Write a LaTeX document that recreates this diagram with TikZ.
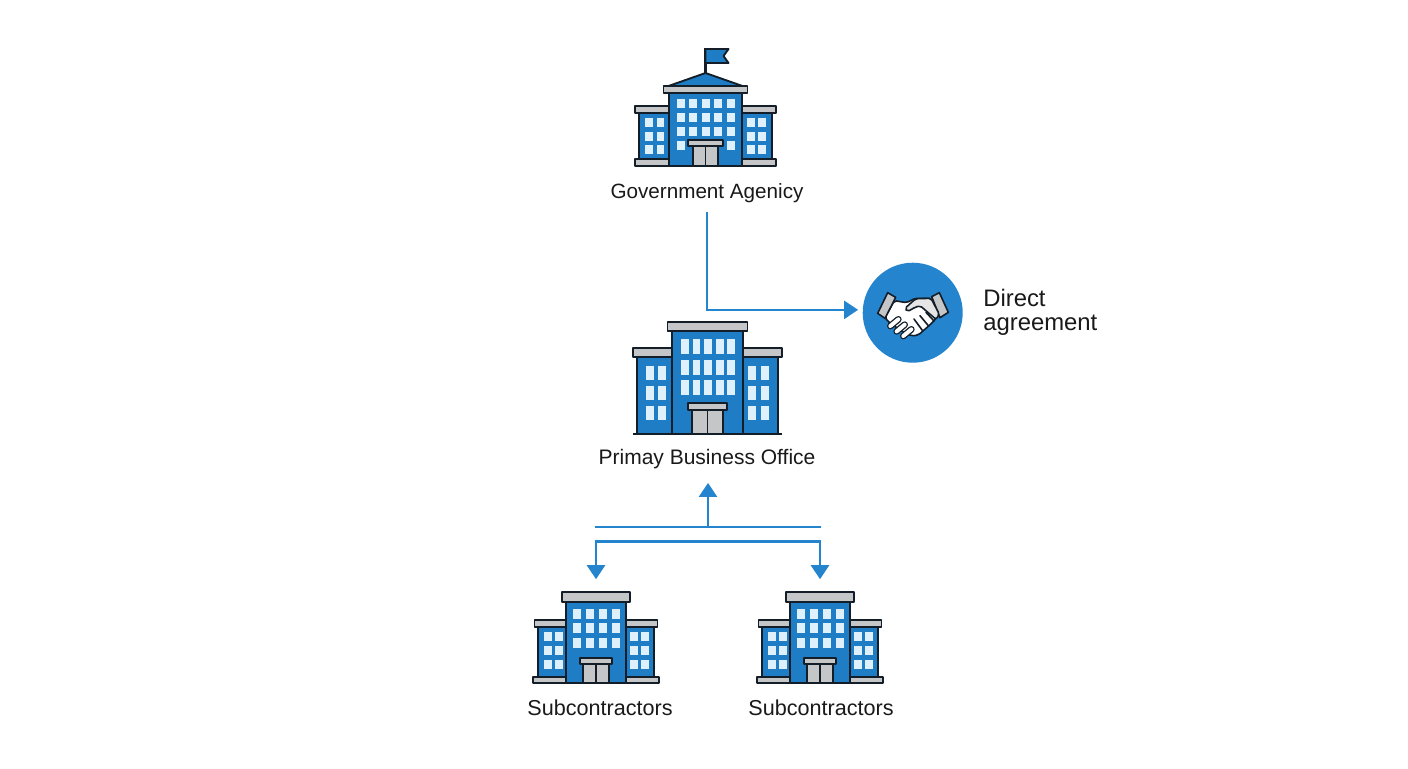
\documentclass[tikz,border=0pt]{standalone}
\usepackage{fontspec}
\setmainfont{Liberation Sans}
\usetikzlibrary{arrows.meta}
\definecolor{bldblue}{HTML}{1F7DC6}
\definecolor{flowblue}{HTML}{2484CE}
\definecolor{pane}{HTML}{DDF0FB}
\definecolor{trim}{HTML}{C4C6C8}
\definecolor{ink}{HTML}{141E28}

% side window columns, pane width and height as arguments
\newcommand{\panes}[4]{%
  \foreach \px in {#1} \foreach \py in {#2}
    \fill[pane] (\px,\py) rectangle ++(#3,#4);}

\tikzset{
  govblock/.pic={
    \draw[bldwall,line width=1.6pt] (0,-93) -- (0,-118);
    \draw[bldwall] (0,-117) -- (23,-117) -- (18,-110) -- (23,-103) -- (0,-103) -- cycle;
    \draw[bldwall] (0,-93) -- (-37,-80) -- (37,-80) -- cycle;
    \foreach \s in {-1,1} {
      \draw[bldwall] (\s*36.5,-53) rectangle (\s*66.5,-7);
      \draw[bldtrim] (\s*36.5,-60) rectangle (\s*70.5,-53);
      \draw[bldtrim] (\s*36.5,-7) rectangle (\s*70.5,0);
    }
    \draw[bldwall] (-36.5,-73) rectangle (36.5,0);
    \draw[bldtrim] (-42,-80) rectangle (42,-73);
    \panes{-29,-16.5,-4,8.5,21}{-67,-53,-39}{8}{9}
    \panes{-29,21}{-25}{8}{9}
    \panes{-60.5,-49,41.5,52.5}{-48,-34,-21}{7.5}{9}
    \draw[bldtrim] (-12.5,-20) rectangle (12.5,0);
    \draw[ink,line width=1.2pt] (0,-20) -- (0,0);
    \draw[bldtrim] (-17.5,-26) rectangle (17.5,-20);
  },
  mainblock/.pic={
    \foreach \s in {-1,1} {
      \draw[bldwall] (\s*35.5,-77) rectangle (\s*70.5,0);
      \draw[bldtrim] (\s*35.5,-86) rectangle (\s*74.5,-77);
    }
    \draw[bldwall] (-35.5,-103) rectangle (35.5,0);
    \draw[bldtrim] (-40,-112) rectangle (40,-103);
    \draw[ink,line width=1.5pt] (-74.5,0) -- (74.5,0);
    \panes{-26.5,-14.9,-3.3,8.3,19.9}{-95,-74,-54}{7.7}{15}
    \panes{-61.5,-49.5,40.5,53.5}{-68,-48,-28}{8}{14}
    \draw[bldtrim] (-15.5,-24) rectangle (15.5,0);
    \draw[ink,line width=1.2pt] (0,-24) -- (0,0);
    \draw[bldtrim] (-19.5,-31) rectangle (19.5,-24);
  },
  subblock/.pic={
    \foreach \s in {-1,1} {
      \draw[bldwall] (\s*30,-56) rectangle (\s*58,-6);
      \draw[bldtrim] (\s*30,-63) rectangle (\s*61.5,-56);
      \draw[bldtrim] (\s*30,-6) rectangle (\s*63,0);
    }
    \draw[bldwall] (-30,-81) rectangle (30,0);
    \draw[bldtrim] (-34,-91) rectangle (34,-81);
    \panes{-23,-10,3,16}{-74,-60,-45}{8}{9.5}
    \panes{-52,-41,34,45}{-51,-37,-23}{7.5}{9}
    \draw[bldtrim] (-13,-19) rectangle (13,0);
    \draw[ink,line width=1.2pt] (0,-19) -- (0,0);
    \draw[bldtrim] (-16,-25) rectangle (16,-19);
  },
  shakehands/.pic={
    \begin{scope}[x=0.25pt,y=-0.25pt]
    \draw[shakeline,fill=white,rounded corners=1.5pt] (133,137) -- (170,143) -- (195,130) -- (243,130) -- (268,178)
      -- (245,205) -- (205,240) -- (185,243) -- (150,225) -- (115,200) -- (105,188) -- cycle;
    \draw[shakeline,fill=trim] (113,113) -- (137,127) -- (105,190) -- (83,175) -- cycle;
    \draw[shakeline,fill=trim] (245,125) -- (268,113) -- (295,172) -- (270,188) -- cycle;
    \draw[shakeline,fill=white!90!black,rounded corners=1.5pt] (197,131) -- (165,160) -- (172,170) -- (195,157)
      -- (210,152) -- (258,193) -- (268,178) -- (243,130) -- cycle;
    \foreach \fx/\fy in {133/203,152/219,172/233} {
      \draw[ink,line width=5pt,line cap=round] (\fx-12,\fy+10) -- (\fx+12,\fy-10);
      \draw[white,line width=3pt,line cap=round] (\fx-12,\fy+10) -- (\fx+12,\fy-10);
    }
    \draw[shakeline,line cap=round] (192,192) -- (217,226);
    \draw[shakeline,line cap=round] (210,182) -- (235,212);
    \draw[shakeline,line cap=round] (228,172) -- (252,198);
    \end{scope}
  }
}

\begin{document}
\begin{tikzpicture}[x=0.75pt,y=-0.75pt]

\tikzstyle{bldwall}=[draw=ink,fill=bldblue,line width=1.4pt,line join=round]
\tikzstyle{bldtrim}=[draw=ink,fill=trim,line width=1.4pt,line join=round]
\tikzstyle{shakeline}=[draw=ink,line width=1.2pt,line join=round]
\tikzstyle{bldlabel}=[text=black!90,font=\fontsize{16.2}{18}\selectfont,inner sep=0pt,
text depth=3.5pt,anchor=base]
\tikzstyle{subslot}=[minimum width=94pt,minimum height=68pt,inner sep=0pt,outer sep=9.75pt]
\tikzstyle{flow}=[draw=flowblue,line width=1.9pt,-{Triangle[length=10.5pt,width=13.5pt]}]
\tikzstyle{railflow}=[draw=flowblue,line width=1.9pt,
{Triangle[length=10.5pt,width=13.5pt]}-{Triangle[length=10.5pt,width=13.5pt]}]

\useasboundingbox (0,0) rectangle (1408,768);

\pic at (705.5,166) {govblock};
\node[bldlabel,outer sep=7.2pt,font=\fontsize{15.5}{18}\selectfont] (govlabel) at (707,198) {Government Agenicy};

\pic at (707.5,434) {mainblock};
\node[bldlabel,outer sep=7.2pt,font=\fontsize{15.75}{18}\selectfont] (mainlabel) at (707,464) {Primay Business Office};

\node[subslot] (suba) at (596,637.5) {};
\node[subslot] (subb) at (820,637.5) {};
\pic at (596,683) {subblock};
\pic at (820,683) {subblock};
\node[bldlabel] (subalabel) at (600,715) {Subcontractors};
\node[bldlabel] (subblabel) at (821,715) {Subcontractors};

\node[circle,fill=flowblue,minimum size=75pt,inner sep=0pt,outer sep=3.5pt] (agree) at (912.7,312.7) {};
\pic at (850,255) {shakehands};
\node[align=left,anchor=base west,inner sep=0pt,text=black!90,
font=\fontsize{17.9}{18}\selectfont] (agreelabel) at (983,330) {Direct\\agreement};

\coordinate (barl) at (595,527);
\coordinate (barr) at (821,527);
\coordinate (barmid) at (708,527);
\coordinate (rail) at (708,541.5);

\draw[flow] (govlabel.south) |- (agree.177);
\draw[draw=flowblue,line width=1.9pt] (barl) -- (barr);
\draw[flow,shorten >=3.5pt] (barmid) -- (barmid |- mainlabel.south);
\draw[railflow] (suba.north) |- (rail) -| (subb.north);

\end{tikzpicture}
\end{document}
